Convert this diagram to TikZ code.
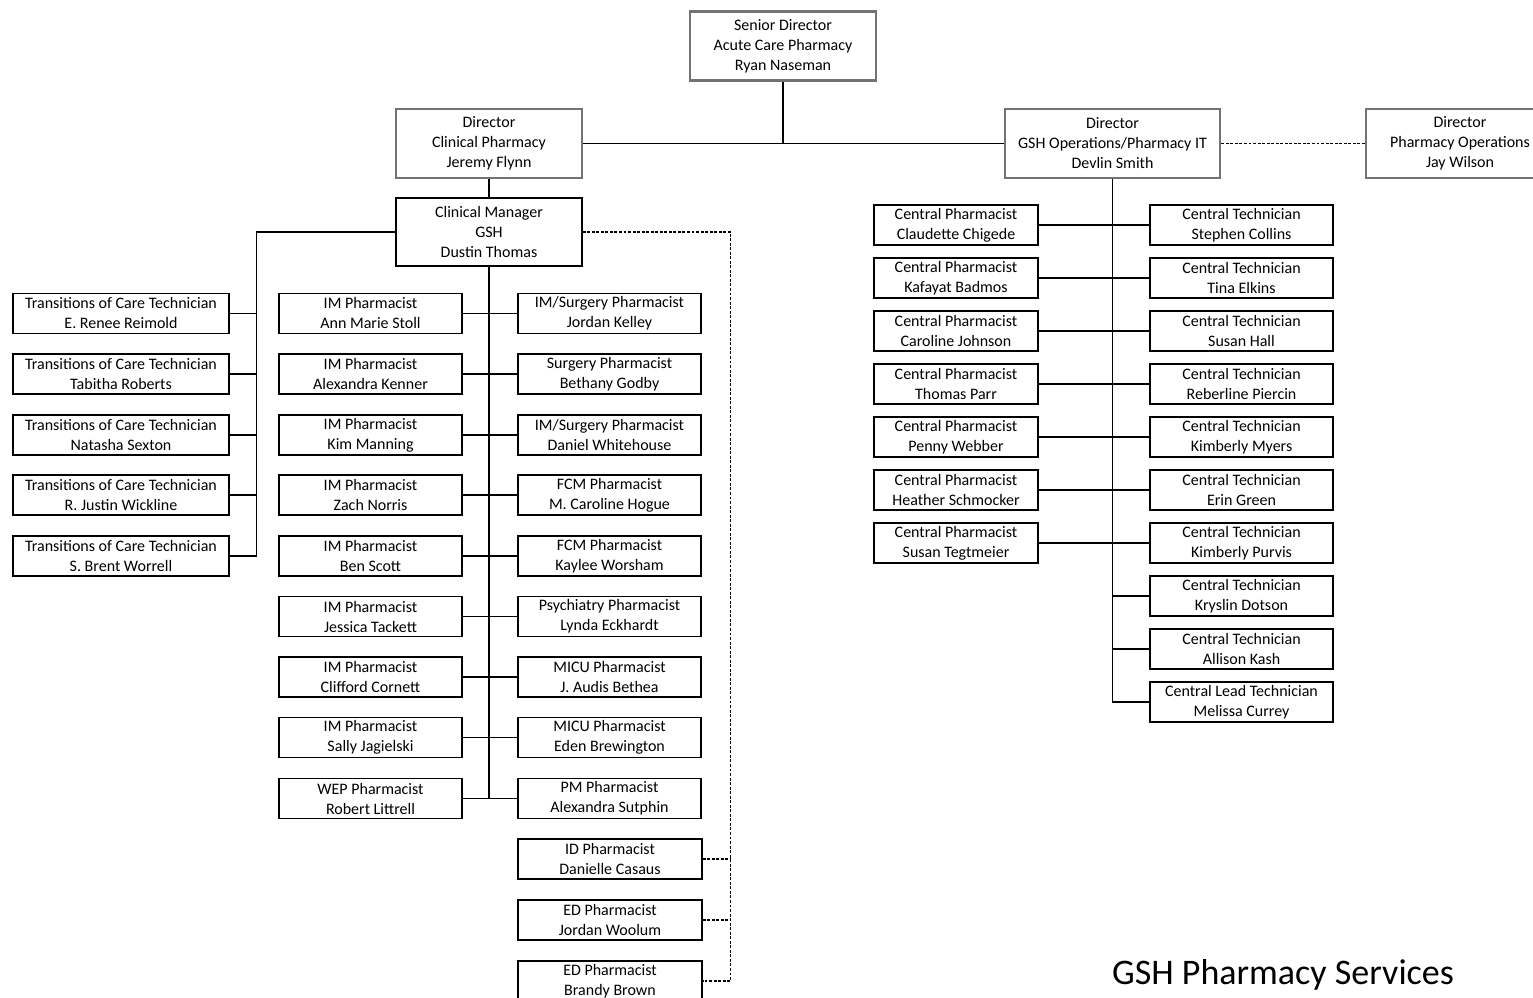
\documentclass[tikz,border=0pt]{standalone}
\usepackage{fontspec}
\setmainfont{Carlito}
\begin{document}
\begin{tikzpicture}[x=0.75pt,y=-0.75pt,
  box/.style={draw=black, line width=1.1pt, fill=white, align=center, inner sep=0pt,
    font=\fontsize{12}{15}\selectfont},
  topbox/.style={box, draw=black!55, line width=2pt, minimum height=69*0.75pt},
  wd/.style={minimum width=#1*0.75pt},
  ht/.style={minimum height=#1*0.75pt},
  small/.style={box, ht=40},
  conn/.style={draw=black, line width=1.1pt},
  dotconn/.style={draw=black, line width=0.9pt, dash pattern=on 2.2pt off 1.2pt}
]
\useasboundingbox (0,0) rectangle (1533,998);

% top level
\node[topbox, wd=186] (senior) at (783,46) {Senior Director\\Acute Care Pharmacy\\Ryan Naseman};
\node[topbox, wd=186] (dclin) at (489,143.5) {Director\\Clinical Pharmacy\\Jeremy Flynn};
\node[topbox, wd=215] (dops) at (1112.5,143.5) {Director\\GSH Operations/Pharmacy IT\\Devlin Smith};
\node[topbox, wd=188] (dpharm) at (1460,143.5) {Director\\Pharmacy Operations\\Jay Wilson};
\node[box, wd=186, ht=68] (cm) at (489,232) {Clinical Manager\\GSH\\Dustin Thomas};

% transitions of care
\node[small, wd=216] (toc1) at (121,313.5) {Transitions of Care Technician\\E. Renee Reimold};
\node[small, wd=216] (toc2) at (121,374) {Transitions of Care Technician\\Tabitha Roberts};
\node[small, wd=216] (toc3) at (121,435) {Transitions of Care Technician\\Natasha Sexton};
\node[small, wd=216] (toc4) at (121,495) {Transitions of Care Technician\\R. Justin Wickline};
\node[small, wd=216] (toc5) at (121,556) {Transitions of Care Technician\\S. Brent Worrell};

% left column
\node[small, wd=183] (l1) at (370.5,313.5) {IM Pharmacist\\Ann Marie Stoll};
\node[small, wd=183] (l2) at (370.5,374) {IM Pharmacist\\Alexandra Kenner};
\node[small, wd=183] (l3) at (370.5,435) {IM Pharmacist\\Kim Manning};
\node[small, wd=183] (l4) at (370.5,495) {IM Pharmacist\\Zach Norris};
\node[small, wd=183] (l5) at (370.5,556) {IM Pharmacist\\Ben Scott};
\node[small, wd=183] (l6) at (370.5,616.5) {IM Pharmacist\\Jessica Tackett};
\node[small, wd=183] (l7) at (370.5,677) {IM Pharmacist\\Clifford Cornett};
\node[small, wd=183] (l8) at (370.5,737.5) {IM Pharmacist\\Sally Jagielski};
\node[small, wd=183] (l9) at (370.5,798.5) {WEP Pharmacist\\Robert Littrell};

% right column
\node[small, wd=183] (r1) at (609.5,313.5) {IM/Surgery Pharmacist\\Jordan Kelley};
\node[small, wd=183] (r2) at (609.5,374) {Surgery Pharmacist\\Bethany Godby};
\node[small, wd=183] (r3) at (609.5,435) {IM/Surgery Pharmacist\\Daniel Whitehouse};
\node[small, wd=183] (r4) at (609.5,495) {FCM Pharmacist\\M. Caroline Hogue};
\node[small, wd=183] (r5) at (609.5,556) {FCM Pharmacist\\Kaylee Worsham};
\node[small, wd=183] (r6) at (609.5,616.5) {Psychiatry Pharmacist\\Lynda Eckhardt};
\node[small, wd=183] (r7) at (609.5,677) {MICU Pharmacist\\J. Audis Bethea};
\node[small, wd=183] (r8) at (609.5,737.5) {MICU Pharmacist\\Eden Brewington};
\node[small, wd=183] (r9) at (609.5,798.5) {PM Pharmacist\\Alexandra Sutphin};

% dotted-line reports
\node[small, wd=184] (d1) at (610,859) {ID Pharmacist\\Danielle Casaus};
\node[small, wd=184] (d2) at (610,920) {ED Pharmacist\\Jordan Woolum};
\node[small, wd=184] (d3) at (610,981) {ED Pharmacist\\Brandy Brown};

% central pharmacists
\node[small, wd=164] (p1) at (956,225) {Central Pharmacist\\Claudette Chigede};
\node[small, wd=164] (p2) at (956,278) {Central Pharmacist\\Kafayat Badmos};
\node[small, wd=164] (p3) at (956,331) {Central Pharmacist\\Caroline Johnson};
\node[small, wd=164] (p4) at (956,384) {Central Pharmacist\\Thomas Parr};
\node[small, wd=164] (p5) at (956,437) {Central Pharmacist\\Penny Webber};
\node[small, wd=164] (p6) at (956,490) {Central Pharmacist\\Heather Schmocker};
\node[small, wd=164] (p7) at (956,543) {Central Pharmacist\\Susan Tegtmeier};

% central technicians
\node[small, wd=183] (t1) at (1241.5,225) {Central Technician\\Stephen Collins};
\node[small, wd=183] (t2) at (1241.5,278) {Central Technician\\Tina Elkins};
\node[small, wd=183] (t3) at (1241.5,331) {Central Technician\\Susan Hall};
\node[small, wd=183] (t4) at (1241.5,384) {Central Technician\\Reberline Piercin};
\node[small, wd=183] (t5) at (1241.5,437) {Central Technician\\Kimberly Myers};
\node[small, wd=183] (t6) at (1241.5,490) {Central Technician\\Erin Green};
\node[small, wd=183] (t7) at (1241.5,543) {Central Technician\\Kimberly Purvis};
\node[small, wd=183] (t8) at (1241.5,596) {Central Technician\\Kryslin Dotson};
\node[small, wd=183] (t9) at (1241.5,649) {Central Technician\\Allison Kash};
\node[small, wd=183] (t10) at (1241.5,702) {Central Lead Technician\\Melissa Currey};

% title
\node[font=\fontsize{27}{32}\selectfont, inner sep=0pt] (title) at (1283,975) {GSH Pharmacy Services};

% connectors
\begin{scope}[on background layer/.style={}]
\draw[conn] (senior.south) -- (senior.south |- dclin.east);
\draw[conn] (dclin.east) -- (dops.west);
\draw[black, line width=0.9pt, dash pattern=on 2.2pt off 1.2pt] (dops.east) -- (dpharm.west);
\draw[conn] (dclin.south) -- (cm.north);

\draw[conn] (cm.west) -- ++(-139,0) coordinate (tj) -- (tj |- toc5.east) -- (toc5.east);
\foreach \i in {1,2,3,4}{\draw[conn] (toc\i.east) -- (toc\i.east -| tj);}

\draw[conn] (cm.south) -- (cm.south |- l9.east);
\foreach \i in {1,...,9}{\draw[conn] (l\i.east) -- (r\i.west);}

\draw[dotconn] (cm.east) -- ++(148,0) coordinate (dj) -- (dj |- d3.east) -- (d3.east);
\draw[dotconn] (d1.east) -- (d1.east -| dj);
\draw[dotconn] (d2.east) -- (d2.east -| dj);

\draw[conn] (dops.south) -- (dops.south |- t10.west) -- (t10.west);
\foreach \i in {1,...,7}{\draw[conn] (p\i.east) -- (t\i.west);}
\draw[conn] (t8.west) -- (t8.west -| dops.south);
\draw[conn] (t9.west) -- (t9.west -| dops.south);
\end{scope}
\end{tikzpicture}
\end{document}
